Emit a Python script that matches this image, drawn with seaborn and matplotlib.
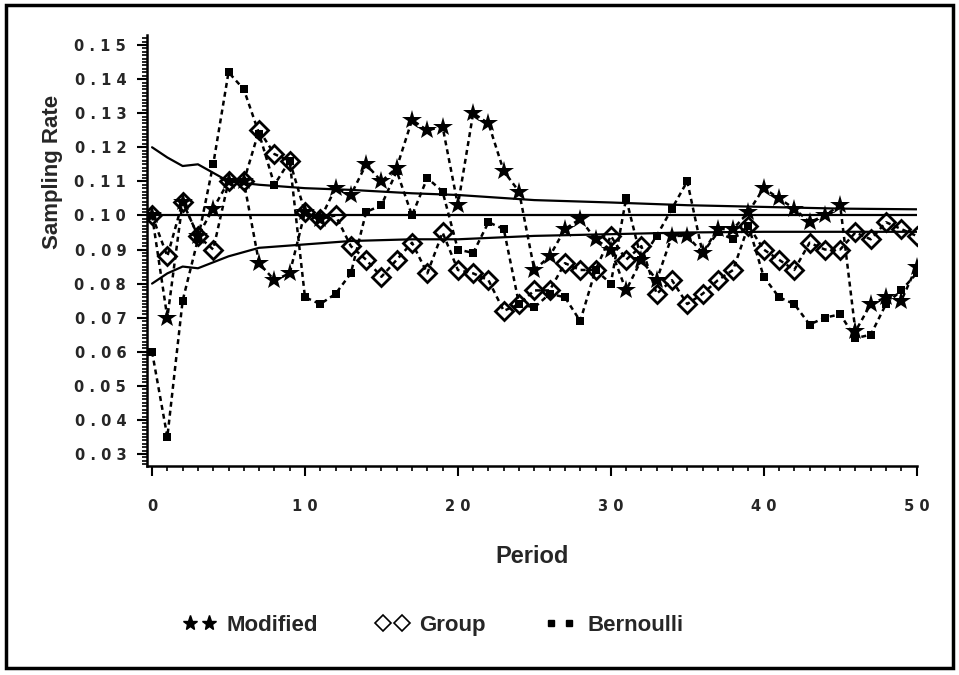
import numpy as np
import pandas as pd
import matplotlib
matplotlib.use('Agg')
import matplotlib.pyplot as plt
from matplotlib.lines import Line2D
from matplotlib.patches import Rectangle
from matplotlib.ticker import MultipleLocator, FuncFormatter
import seaborn as sns

periods = list(range(51))

modified = [0.100, 0.070, 0.104, 0.094, 0.102, 0.110, 0.110, 0.086, 0.081, 0.083,
            0.101, 0.099, 0.108, 0.106, 0.115, 0.110, 0.114, 0.128, 0.125, 0.126,
            0.103, 0.130, 0.127, 0.113, 0.107, 0.084, 0.088, 0.096, 0.099, 0.093,
            0.090, 0.078, 0.087, 0.081, 0.094, 0.094, 0.089, 0.096, 0.096, 0.101,
            0.108, 0.105, 0.102, 0.098, 0.100, 0.103, 0.066, 0.074, 0.076, 0.075, 0.085]

group = [0.100, 0.088, 0.104, 0.094, 0.090, 0.110, 0.110, 0.125, 0.118, 0.116,
         0.101, 0.099, 0.100, 0.091, 0.087, 0.082, 0.087, 0.092, 0.083, 0.095,
         0.084, 0.083, 0.081, 0.072, 0.074, 0.078, 0.078, 0.086, 0.084, 0.084,
         0.094, 0.087, 0.091, 0.077, 0.081, 0.074, 0.077, 0.081, 0.084, 0.097,
         0.090, 0.087, 0.084, 0.092, 0.090, 0.090, 0.095, 0.093, 0.098, 0.096, 0.094]

bernoulli = [0.060, 0.035, 0.075, 0.093, 0.115, 0.142, 0.137, 0.124, 0.109, 0.116,
             0.076, 0.074, 0.077, 0.083, 0.101, 0.103, 0.113, 0.100, 0.111, 0.107,
             0.090, 0.089, 0.098, 0.096, 0.074, 0.073, 0.077, 0.076, 0.069, 0.084,
             0.080, 0.105, 0.087, 0.094, 0.102, 0.110, 0.089, 0.095, 0.093, 0.097,
             0.082, 0.076, 0.074, 0.068, 0.070, 0.071, 0.064, 0.065, 0.074, 0.078, 0.083]

# control limits, read at a few periods
limit_periods = [0, 1, 2, 3, 5, 7, 10, 13, 17, 20, 25, 30, 35, 40, 45, 50]
upper_limit = [0.120, 0.117, 0.1145, 0.115, 0.110, 0.109, 0.108, 0.1075, 0.1065,
               0.106, 0.1045, 0.1038, 0.103, 0.1025, 0.102, 0.1018]
lower_limit = [0.080, 0.083, 0.085, 0.0845, 0.088, 0.0905, 0.0915, 0.0925, 0.093,
               0.093, 0.094, 0.0945, 0.095, 0.0952, 0.0952, 0.0952]
center_line = [0.100] * len(limit_periods)

sns.set_style('ticks')
plt.rcParams['font.family'] = ['Liberation Sans Narrow', 'Liberation Sans', 'DejaVu Sans']
plt.rcParams['font.weight'] = 'bold'

fig = plt.figure(figsize=(9.59, 6.75), dpi=100)
ax = fig.add_axes([0.1533, 0.3096, 0.8033, 0.6385])

dots = (0, (2.0, 1.6))

for lim in [upper_limit, center_line, lower_limit]:
    sns.lineplot(x=limit_periods, y=lim, ax=ax, color='black', linewidth=1.6)

sns.lineplot(x=periods, y=bernoulli, ax=ax, color='black', linewidth=1.8,
             linestyle=dots, marker='s', markersize=6, markeredgewidth=0)
sns.lineplot(x=periods, y=group, ax=ax, color='black', linewidth=1.8,
             linestyle=dots, marker='D', markersize=9.5, markerfacecolor='none',
             markeredgecolor='black', markeredgewidth=2)
sns.lineplot(x=periods, y=modified, ax=ax, color='black', linewidth=1.8,
             linestyle=dots, marker='*', markersize=15, markeredgewidth=0)

ax.set_xlim(-0.33, 50.05)
ax.set_ylim(0.02648, 0.15293)
ax.xaxis.set_major_locator(MultipleLocator(10))
ax.xaxis.set_minor_locator(MultipleLocator(1))
ax.yaxis.set_major_locator(MultipleLocator(0.01))
ax.yaxis.set_minor_locator(MultipleLocator(0.001))
ax.yaxis.set_major_formatter(FuncFormatter(lambda v, p: ' '.join(f'{v:.2f}')))
ax.xaxis.set_major_formatter(FuncFormatter(lambda v, p: ' '.join(f'{v:.0f}')))

tick_font = {'family': 'DejaVu Sans', 'weight': 'bold', 'size': 10.5}
for lab in ax.get_xticklabels() + ax.get_yticklabels():
    lab.set_fontproperties(tick_font)
ax.tick_params(axis='both', which='major', direction='out', length=7, width=1.5, color='black')
ax.tick_params(axis='both', which='minor', direction='out', length=3.5, width=1.2, color='black')
ax.tick_params(axis='x', which='major', pad=17)
ax.tick_params(axis='y', which='major', pad=8)

sns.despine(ax=ax)
for side in ['left', 'bottom']:
    ax.spines[side].set_linewidth(1.8)
    ax.spines[side].set_color('black')

ax.set_xlabel('Period', fontsize=17, fontweight='bold')
ax.set_ylabel('Sampling Rate', fontsize=16, fontweight='bold')
ax.xaxis.set_label_coords(0.5, -0.183)
ax.yaxis.set_label_coords(-0.109, 0.682)

handles = [
    Line2D([], [], color='black', linestyle='none', marker='*', markersize=11),
    Line2D([], [], color='black', linestyle='none', marker='D', markersize=8,
           markerfacecolor='none', markeredgewidth=1.2),
    Line2D([], [], color='black', linestyle='none', marker='s', markersize=5),
]
fig.legend(handles, ['Modified', 'Group', 'Bernoulli'], loc='center',
           bbox_to_anchor=(0.452, 0.073), ncol=3, frameon=False, numpoints=2,
           handlelength=1.45, handletextpad=0.5, columnspacing=2.6,
           prop={'family': ['Liberation Sans Narrow', 'Liberation Sans'],
                 'weight': 'bold', 'size': 16})

fig.patches.append(Rectangle((0.006, 0.01), 0.988, 0.982, transform=fig.transFigure,
                             fill=False, edgecolor='black', linewidth=2.5))

fig.savefig('out.png', dpi=100)
